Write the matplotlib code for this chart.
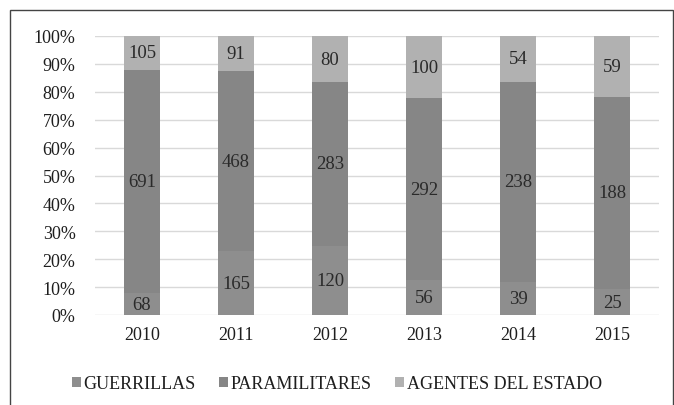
import matplotlib.pyplot as plt
import matplotlib.patches as mpatches
import numpy as np

years = ['2010', '2011', '2012', '2013', '2014', '2015']
guerrillas = [68, 165, 120, 56, 39, 25]
paramilitares = [691, 468, 283, 292, 238, 188]
agentes = [105, 91, 80, 100, 54, 59]
labels = ['GUERRILLAS', 'PARAMILITARES', 'AGENTES DEL ESTADO']
colors = ['#8e8e8e', '#868686', '#b1b1b1']

plt.rcParams['font.family'] = ['Liberation Serif', 'DejaVu Serif']

series = np.array([guerrillas, paramilitares, agentes], dtype=float)
pct = series / series.sum(axis=0) * 100

fig = plt.figure(figsize=(6.74, 4.06), dpi=100)
ax = fig.add_axes([95 / 674, 1 - 316 / 406, 564 / 674, 279 / 406])

x = np.arange(len(years))
bottom = np.zeros(len(years))
for i in range(3):
    ax.bar(x, pct[i], bottom=bottom, width=0.39, color=colors[i], label=labels[i], zorder=2)
    for j in range(len(years)):
        ax.text(x[j], bottom[j] + pct[i][j] / 2, str(int(series[i][j])),
                ha='center', va='center', fontsize=13.5, color='#2a2a2a', zorder=3)
    bottom += pct[i]

ax.set_xlim(-0.5, len(years) - 0.5)
ax.set_ylim(0, 100)
ax.set_yticks(range(0, 101, 10))
ax.set_yticklabels([f'{v}%' for v in range(0, 101, 10)])
ax.set_xticks(x)
ax.set_xticklabels(years)
ax.tick_params(length=0, labelsize=13, colors='#1e1e1e')
ax.tick_params(axis='x', pad=8)
ax.tick_params(axis='y', pad=14)
ax.yaxis.grid(True, color='#d9d9d9', linewidth=1, zorder=0)
for s in ax.spines.values():
    s.set_visible(False)

fig.legend(loc='center', bbox_to_anchor=(337 / 674, 1 - 385 / 406), ncol=3, frameon=False,
           fontsize=13, handlelength=0.5, handleheight=0.5, handletextpad=0.15,
           columnspacing=1.3, labelcolor='#1e1e1e')

fig.patches.append(mpatches.Rectangle((10 / 674, -0.05), 663 / 674, 1.05 - 11 / 406,
                                      transform=fig.transFigure, fill=False,
                                      edgecolor='#444444', linewidth=1))

fig.savefig('out.png', dpi=100)
